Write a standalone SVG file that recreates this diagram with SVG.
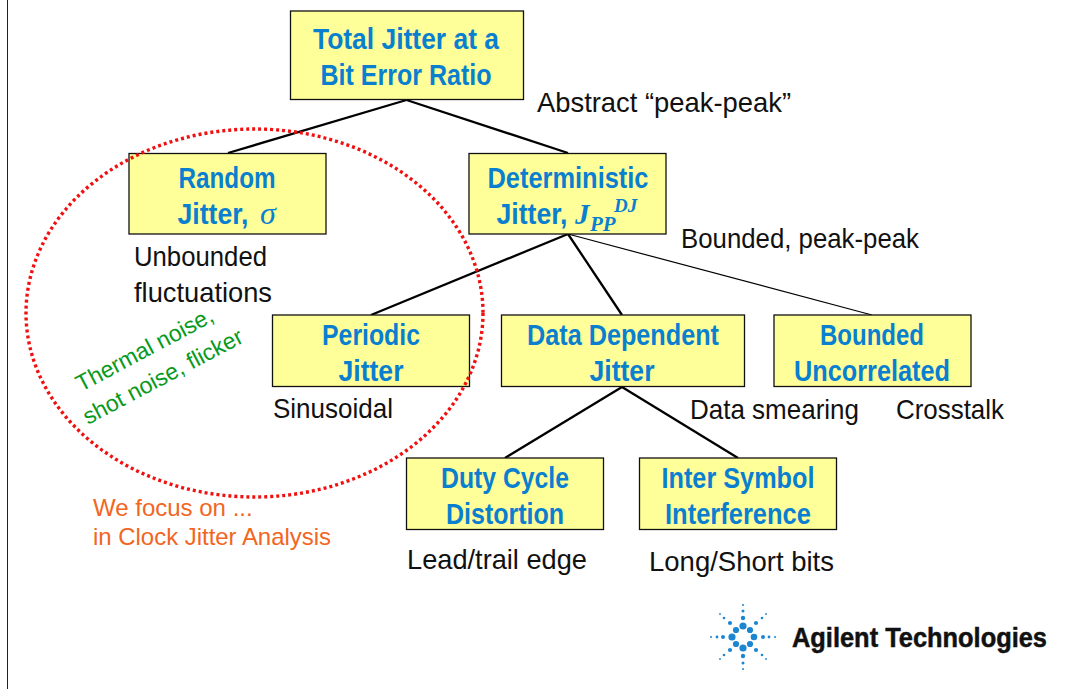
<svg xmlns="http://www.w3.org/2000/svg" width="1073" height="689" viewBox="0 0 1073 689">
<style>
.box{fill:#ffff99;stroke:#111;stroke-width:1.3}
.t{font-family:"Liberation Sans",Arial,sans-serif;font-weight:bold;font-size:30px;fill:#0a7fd0;text-anchor:middle}
.m{font-family:"Liberation Serif","Times New Roman",serif;font-style:italic;font-weight:bold;fill:#0a7fd0}
.l{font-family:"Liberation Sans",Arial,sans-serif;font-size:28px;fill:#111}
.c{stroke:#000;fill:none;stroke-width:2.3}
.o{font-family:"Liberation Sans",Arial,sans-serif;font-size:24px;fill:#f26522}
.g{font-family:"Liberation Sans",Arial,sans-serif;font-size:23px;fill:#079a1c}
.d{fill:#1c86d0}
</style>
<rect width="1073" height="689" fill="#fff"/>
<path d="M7.5 0V689" stroke="#222" stroke-width="1"/>
<g id="connectors">
<path class="c" d="M406.500 100L228 153"/>
<path class="c" d="M406.500 100L568 153"/>
<path class="c" d="M568 234L371 315"/>
<path class="c" d="M568 234L622 315"/>
<path d="M568 234L872 315" stroke="#000" fill="none" stroke-width="1.2"/>
<path class="c" d="M622 387L505 458"/>
<path class="c" d="M622 387L738 458"/>
</g>
<g id="n-total"><rect class="box" x="290.500" y="11" width="233" height="88.500"/>
<text class="t" x="406" y="49" textLength="186" lengthAdjust="spacingAndGlyphs">Total Jitter at a</text>
<text class="t" x="406" y="85" textLength="171" lengthAdjust="spacingAndGlyphs">Bit Error Ratio</text></g>
<g id="n-random"><rect class="box" x="129" y="153.500" width="197" height="80.500"/>
<text class="t" x="227" y="188" textLength="97" lengthAdjust="spacingAndGlyphs">Random</text>
<text class="t" x="213" y="224" textLength="71" lengthAdjust="spacingAndGlyphs">Jitter,</text>
<text x="260" y="224" font-family="Liberation Serif,serif" font-style="italic" font-size="32" fill="#0a7fd0">σ</text></g>
<g id="n-deterministic"><rect class="box" x="469" y="153.500" width="197" height="80.500"/>
<text class="t" x="568" y="188" textLength="161" lengthAdjust="spacingAndGlyphs">Deterministic</text>
<text class="t" x="532" y="224" textLength="71" lengthAdjust="spacingAndGlyphs">Jitter,</text>
<text class="m" x="575" y="224" font-size="29">J</text>
<text class="m" x="590" y="231" font-size="21">PP</text>
<text class="m" x="614" y="212" font-size="19">DJ</text></g>
<g id="n-periodic"><rect class="box" x="272.500" y="315" width="197" height="71.500"/>
<text class="t" x="371" y="345" textLength="98" lengthAdjust="spacingAndGlyphs">Periodic</text>
<text class="t" x="371" y="381" textLength="65" lengthAdjust="spacingAndGlyphs">Jitter</text></g>
<g id="n-data"><rect class="box" x="501.500" y="315" width="243" height="71.500"/>
<text class="t" x="623" y="345" textLength="192" lengthAdjust="spacingAndGlyphs">Data Dependent</text>
<text class="t" x="622" y="381" textLength="65" lengthAdjust="spacingAndGlyphs">Jitter</text></g>
<g id="n-bounded"><rect class="box" x="774" y="315" width="197" height="71.500"/>
<text class="t" x="872" y="345" textLength="104" lengthAdjust="spacingAndGlyphs">Bounded</text>
<text class="t" x="872" y="381" textLength="156" lengthAdjust="spacingAndGlyphs">Uncorrelated</text></g>
<g id="n-duty"><rect class="box" x="406.500" y="458" width="197" height="71.500"/>
<text class="t" x="505" y="488" textLength="128" lengthAdjust="spacingAndGlyphs">Duty Cycle</text>
<text class="t" x="505" y="524" textLength="118" lengthAdjust="spacingAndGlyphs">Distortion</text></g>
<g id="n-isi"><rect class="box" x="639.500" y="458" width="197" height="71.500"/>
<text class="t" x="738" y="488" textLength="153" lengthAdjust="spacingAndGlyphs">Inter Symbol</text>
<text class="t" x="738" y="524" textLength="146" lengthAdjust="spacingAndGlyphs">Interference</text></g>
<g id="labels">
<text class="l" x="537" y="112" textLength="254" lengthAdjust="spacingAndGlyphs">Abstract “peak-peak”</text>
<text class="l" x="134" y="266" textLength="133" lengthAdjust="spacingAndGlyphs">Unbounded</text>
<text class="l" x="134" y="302" textLength="138" lengthAdjust="spacingAndGlyphs">fluctuations</text>
<text class="l" x="681" y="248" textLength="238" lengthAdjust="spacingAndGlyphs">Bounded, peak-peak</text>
<text class="l" x="273" y="418" textLength="120" lengthAdjust="spacingAndGlyphs">Sinusoidal</text>
<text class="l" x="690" y="419" textLength="169" lengthAdjust="spacingAndGlyphs">Data smearing</text>
<text class="l" x="896" y="419" textLength="108" lengthAdjust="spacingAndGlyphs">Crosstalk</text>
<text class="l" x="407" y="569" textLength="180" lengthAdjust="spacingAndGlyphs">Lead/trail edge</text>
<text class="l" x="649" y="571" textLength="185" lengthAdjust="spacingAndGlyphs">Long/Short bits</text>
<text class="o" x="93" y="516">We focus on ...</text>
<text class="o" x="93" y="545" textLength="238" lengthAdjust="spacingAndGlyphs">in Clock Jitter Analysis</text>
<text class="g" transform="translate(81 392) rotate(-28)">Thermal noise,</text>
<text class="g" transform="translate(88 425) rotate(-28)">shot noise, flicker</text>
</g>
<ellipse id="focus" cx="254.500" cy="313" rx="228.500" ry="184" fill="none" stroke="#f01010" stroke-width="3.400" stroke-dasharray="3 3"/>
<g id="logo">
<g class="d">
<circle cx="743" cy="626" r="3.600"/><circle cx="743" cy="648" r="3.600"/><circle cx="732" cy="637" r="3.600"/><circle cx="754" cy="637" r="3.300"/>
<circle cx="736" cy="630" r="3.100"/><circle cx="750" cy="630" r="3.100"/><circle cx="736" cy="644" r="3.100"/><circle cx="750" cy="644" r="3.100"/>
<circle cx="743" cy="618" r="2.200"/><circle cx="743" cy="656" r="2.200"/><circle cx="723" cy="637" r="2"/><circle cx="763" cy="637" r="2"/>
<circle cx="730" cy="623" r="2.100"/><circle cx="756" cy="623" r="2.100"/><circle cx="730" cy="650" r="2.100"/><circle cx="756" cy="650" r="2.100"/>
<circle cx="743" cy="611" r="1.500"/><circle cx="743" cy="663" r="1.500"/><circle cx="717" cy="637" r="1.400"/><circle cx="769" cy="637" r="1.400"/>
<circle cx="724" cy="618" r="1.300"/><circle cx="762" cy="618" r="1.300"/><circle cx="724" cy="655" r="1.300"/><circle cx="762" cy="655" r="1.300"/>
<circle cx="743" cy="605" r="1"/><circle cx="743" cy="669" r="1"/><circle cx="711" cy="637" r="1"/><circle cx="775" cy="637" r="1"/>
<circle cx="720" cy="614" r="0.900"/><circle cx="766" cy="614" r="0.900"/><circle cx="720" cy="659" r="0.900"/><circle cx="766" cy="659" r="0.900"/>
</g>
<text x="792" y="647" font-family="Liberation Sans,Arial,sans-serif" font-weight="bold" font-size="27" fill="#111" stroke="#111" stroke-width="0.5" textLength="255" lengthAdjust="spacingAndGlyphs">Agilent Technologies</text>
</g>
</svg>
